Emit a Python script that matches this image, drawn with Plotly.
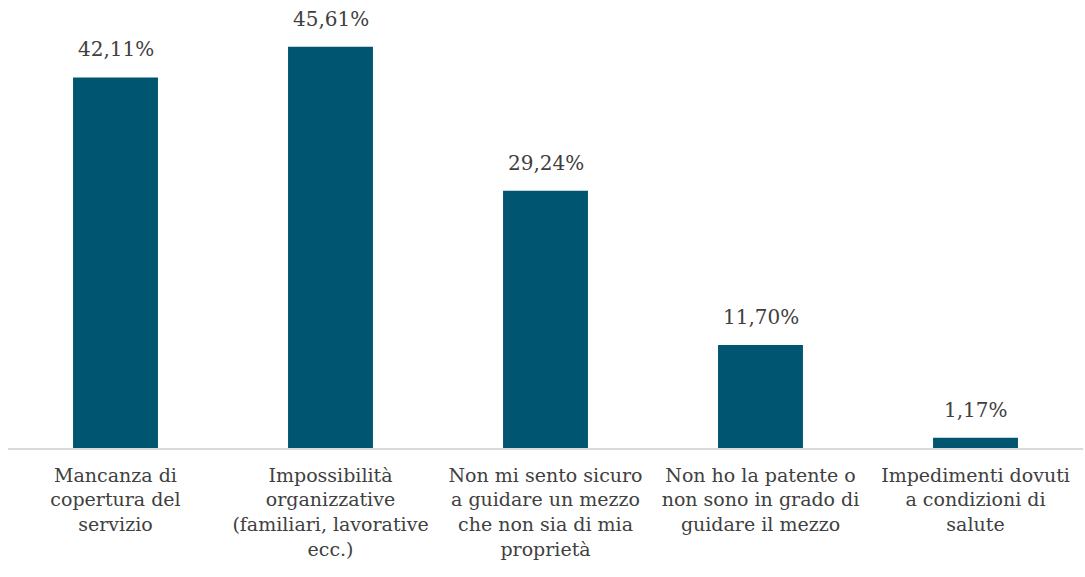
import plotly.graph_objects as go

# Categories (multi-line labels) and percentage values
categories = [
    "Mancanza di<br>copertura del<br>servizio",
    "Impossibilità<br>organizzative<br>(familiari, lavorative<br>ecc.)",
    "Non mi sento sicuro<br>a guidare un mezzo<br>che non sia di mia<br>proprietà",
    "Non ho la patente o<br>non sono in grado di<br>guidare il mezzo",
    "Impedimenti dovuti<br>a condizioni di<br>salute",
]
values = [42.11, 45.61, 29.24, 11.70, 1.17]

BAR_COLOR = "#005571"
TEXT_COLOR = "#404040"
FONT = "DejaVu Serif"

fig = go.Figure(
    go.Bar(
        x=categories,
        y=values,
        marker=dict(color=BAR_COLOR, line=dict(width=0)),
        hoverinfo="skip",
    )
)

# Value labels above each bar
for cat, val in zip(categories, values):
    fig.add_annotation(
        x=cat,
        y=val,
        text=f"{val:.2f}%".replace(".", ","),
        showarrow=False,
        yanchor="bottom",
        yshift=14,
        font=dict(family=FONT, size=20, color=TEXT_COLOR),
    )

fig.update_layout(
    width=1085,
    height=577,
    margin=dict(l=8, r=2, t=8, b=129),
    paper_bgcolor="white",
    plot_bgcolor="white",
    bargap=0.605,
    showlegend=False,
    font=dict(family=FONT, size=19, color=TEXT_COLOR),
    xaxis=dict(
        showgrid=False,
        showline=True,
        linecolor="#d9d9d9",
        linewidth=1.5,
        ticks="outside",
        ticklen=9,
        tickcolor="rgba(0,0,0,0)",
        tickfont=dict(family=FONT, size=19, color=TEXT_COLOR),
        automargin=False,
    ),
    yaxis=dict(
        range=[0, 50],
        showgrid=False,
        showticklabels=False,
        zeroline=False,
        showline=False,
    ),
)

fig.write_html("out.html")
